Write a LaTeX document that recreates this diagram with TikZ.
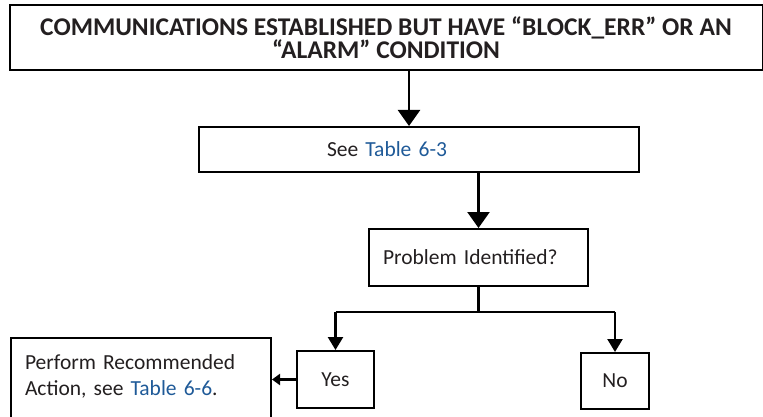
\documentclass[tikz,border=0pt]{standalone}
\usepackage{fontspec}
\setmainfont{Carlito}
\usetikzlibrary{arrows.meta, positioning, calc}
\definecolor{tabBlue}{HTML}{1F5A98}
\definecolor{inkBlack}{HTML}{231F20}
\newcommand{\tref}[1]{\textcolor{tabBlue}{#1}}
\tikzset{
  % pixel-like units, thick lines as in the printed flowchart
  every picture/.append style = {line width=2pt},
  box/.style        = {draw, rectangle, line width=2pt, inner ysep=0pt,
                       font=\fontsize{21.5}{26}\selectfont, text=inkBlack},
  titlebox/.style   = {box, align=center, font=\fontsize{25.5}{23}\bfseries},
  bigarrow/.style   = {-{Triangle[length=16pt, width=22pt]}, line width=2.4pt},
  arrow/.style      = {-{Triangle[length=13pt, width=15pt]}, line width=2.4pt},
  smallarrow/.style = {-{Triangle[length=8pt, width=11pt]}, line width=2.4pt},
  plain/.style      = {line width=2.4pt},
}

\begin{document}
\begin{tikzpicture}[x=1pt, y=-1pt]
  \useasboundingbox (0,0) rectangle (763,417);
  % boxes
  \node[titlebox, minimum width=753, minimum height=65] (start) at (386,37.5)
    {COMMUNICATIONS ESTABLISHED BUT HAVE “BLOCK\_ERR” OR AN\\“ALARM” CONDITION};
  \node[box, minimum height=45, text width=184, inner xsep=128, align=left] (see) at (419,149.5)
    {See \tref{Table 6-3}};
  \node[box, minimum height=57, text width=191, inner xsep=14, align=left] (prob) at (478.5,257.5)
    {Problem Identified?};
  \node[box, minimum width=77, minimum height=57] (yes) at (335.5,379.5) {Yes};
  \node[box, minimum width=68, minimum height=56] (no) at (615,381) {No};
  % the box runs on past the lower edge of the page
  \node[box, anchor=north west, text width=232, inner xsep=14, inner ysep=17, align=left] (act)
    at (10,337) {Perform Recommended\\Action, see \tref{Table 6-6}.\\ \mbox{}};
  % connectors
  \draw[bigarrow] ([xshift=23]start.south) -- ([xshift=23]start.south |- see.north);
  \draw[bigarrow] (see.south -| prob.north) -- (prob.north);
  \coordinate (split) at ($(prob.south)+(0,25)$);
  \draw[plain] (prob.south) -- (split);
  \draw[plain] (yes.north |- split) -- (no.north |- split);
  \draw[arrow] (yes.north |- split) -- (yes.north);
  \draw[arrow] (no.north |- split) -- (no.north);
  \draw[smallarrow] (yes.west) -- (act.east |- yes.west);
\end{tikzpicture}
\end{document}
